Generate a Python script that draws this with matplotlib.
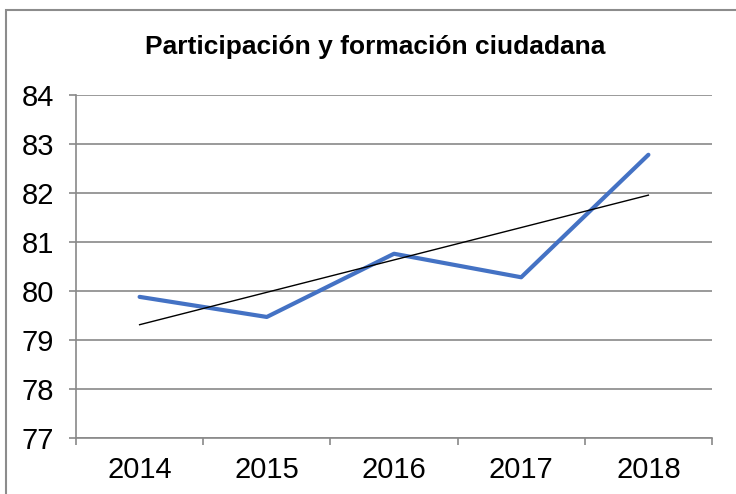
import numpy as np
import matplotlib.pyplot as plt
from matplotlib.patches import Rectangle

plt.rcParams['font.family'] = ['Liberation Sans', 'DejaVu Sans']

years = ['2014', '2015', '2016', '2017', '2018']
values = [79.87, 79.46, 80.75, 80.27, 82.77]
title = 'Participación y formación ciudadana'

fig = plt.figure(figsize=(7.36, 4.94), dpi=100)
ax = fig.add_axes([76 / 736, 1 - 437.5 / 494, 636 / 736, 343 / 494])

x = np.arange(len(years))
ax.plot(x, values, color='#4472C4', lw=3, solid_capstyle='round', zorder=3)

# linear trendline
coef = np.polyfit(x, values, 1)
ax.plot(x, np.polyval(coef, x), color='black', lw=1, zorder=4)

ax.set_xlim(-0.5, len(years) - 0.5)
ax.set_ylim(77, 84)
ax.set_yticks(range(77, 85))
ax.set_xticks(x)
ax.set_xticklabels(years)
ax.set_xticks(np.arange(-0.5, len(years)), minor=True)
ax.tick_params(axis='x', which='major', length=0, pad=13, labelsize=21)
ax.tick_params(axis='x', which='minor', length=5, color='#898989', width=1.2)
ax.tick_params(axis='y', length=5, color='#898989', width=1.2, pad=11, labelsize=21)

ax.grid(axis='y', color='#898989', lw=1.2)
ax.set_axisbelow(True)
for s in ['top', 'right']:
    ax.spines[s].set_visible(False)
for s in ['left', 'bottom']:
    ax.spines[s].set_color('#898989')
    ax.spines[s].set_linewidth(1.2)

fig.text(375 / 736, 1 - 47 / 494, title, ha='center', va='center',
         fontsize=19, fontweight='bold')

# chart border
fig.patches.append(Rectangle((6 / 736, -0.05), 1.1, 1 - 10 / 494 + 0.05,
                             transform=fig.transFigure, fill=False,
                             edgecolor='#8c8c8c', lw=1.5))

fig.savefig('out.png', dpi=100)
